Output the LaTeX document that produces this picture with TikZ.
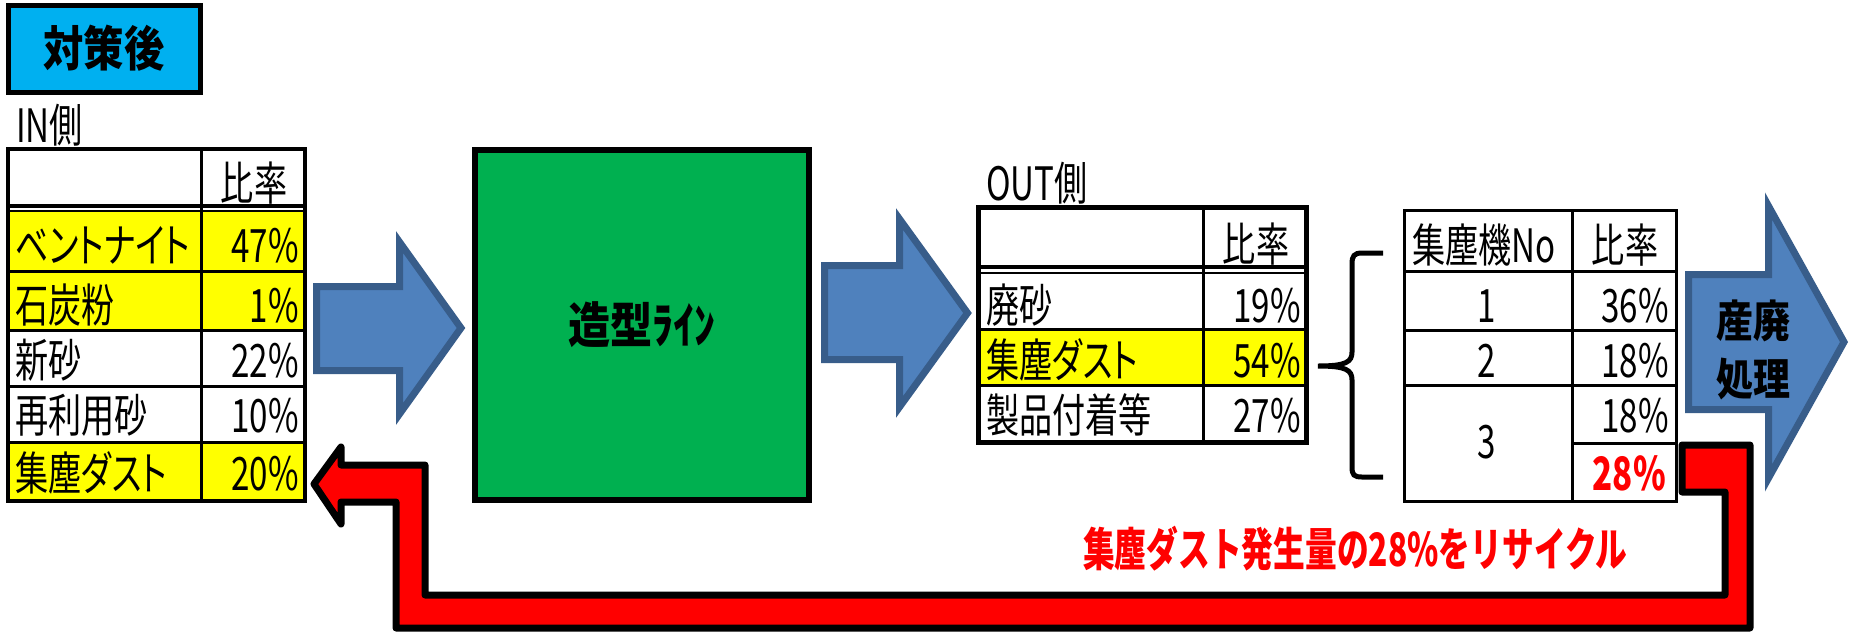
\documentclass[tikz,border=0pt]{standalone}
\usepackage{fontspec}
\newfontfamily\jp[FakeStretch=0.72, RawFeature=+palt]{Noto Sans CJK JP}
\newfontfamily\jpt[FakeStretch=0.84]{Noto Sans CJK JP}
\newfontfamily\jpg[FakeStretch=0.86]{Noto Sans CJK JP}
\newfontfamily\jpr[FakeStretch=0.69]{Noto Sans CJK JP}
\definecolor{cyanbox}{HTML}{00B0F0}
\definecolor{greenbox}{HTML}{00B050}
\definecolor{bluefill}{HTML}{4F81BD}
\definecolor{blueedge}{HTML}{385D8A}
\definecolor{yel}{HTML}{FFFF00}
\definecolor{redc}{HTML}{FF0000}
\begin{document}
\begin{tikzpicture}[x=1pt,y=-1pt,
  txt/.style={inner sep=0pt, font=\jp\fontsize{46pt}{46pt}\selectfont},
  lt/.style={txt, anchor=base west},
  rt/.style={txt, anchor=base east},
  ct/.style={txt, anchor=base},
  outerline/.style={line width=4.5pt},
  innerline/.style={line width=3pt},
  bluearrow/.style={fill=bluefill, draw=blueedge, line width=7pt, line join=miter},
  redarrow/.style={fill=redc, draw=black, line width=7pt, line join=round}]
\useasboundingbox (0,0) rectangle (1854,633);

% ---- title box
\node[draw=black, line width=5pt, fill=cyanbox, minimum width=192pt, minimum height=87pt,
      inner sep=0pt, font=\jpt\bfseries\fontsize{48pt}{48pt}\selectfont] (title) at (104,48.5) {対策後};

% ---- IN table
\node[lt] (inlabel) at (16,142) {IN側};
\fill[yel] (8,211) rectangle (305,330);
\fill[yel] (8,442) rectangle (305,501);
\draw[innerline] (201,149) -- (201,501);
\draw[line width=3.5pt] (8,206) -- (305,206);
\draw[line width=1.5pt] (8,211) -- (305,211);
\draw[innerline] (8,271) -- (305,271);
\draw[innerline] (8,330) -- (305,330);
\draw[innerline] (8,386) -- (305,386);
\draw[innerline] (8,442) -- (305,442);
\draw[outerline] (8,149) rectangle (305,501);
\node[ct] (inh) at (254,200) {比率};
\node[lt] (in1) at (15,262) {ベントナイト};
\node[rt] (in1p) at (299,262) {47\%};
\node[lt] (in2) at (15,322) {石炭粉};
\node[rt] (in2p) at (299,322) {1\%};
\node[lt] (in3) at (15,377) {新砂};
\node[rt] (in3p) at (299,377) {22\%};
\node[lt] (in4) at (15,432) {再利用砂};
\node[rt] (in4p) at (299,432) {10\%};
\node[lt] (in5) at (15,490) {集塵ダスト};
\node[rt] (in5p) at (299,490) {20\%};

% ---- blue arrow 1
\draw[bluearrow] (316.5,286.5) -- (399.5,286.5) -- (399.5,242) -- (461,328) -- (399.5,414) -- (399.5,370.5) -- (316.5,370.5) -- cycle;

% ---- green box
\node[draw=black, line width=6pt, fill=greenbox, minimum width=334pt, minimum height=350pt,
      inner sep=0pt, font=\jpg\bfseries\fontsize{49pt}{49pt}\selectfont] (line) at (642,325) {造型ﾗｲﾝ};

% ---- blue arrow 2
\draw[bluearrow] (824.5,265.5) -- (899.5,265.5) -- (899.5,219) -- (967.5,313) -- (899.5,407) -- (899.5,359.5) -- (824.5,359.5) -- cycle;

% ---- OUT table
\node[lt] (outlabel) at (986,200) {OUT側};
\fill[yel] (979,329) rectangle (1306,385);
\draw[innerline] (1203,207) -- (1203,443);
\draw[line width=3.5pt] (979,267) -- (1306,267);
\draw[line width=1.5pt] (979,273) -- (1306,273);
\draw[innerline] (979,329) -- (1306,329);
\draw[innerline] (979,385) -- (1306,385);
\draw[outerline] (978.5,207.5) rectangle (1306.5,442.5);
\node[ct] (outh) at (1256,261) {比率};
\node[lt] (out1) at (986,322) {廃砂};
\node[rt] (out1p) at (1301,322) {19\%};
\node[lt] (out2) at (986,377) {集塵ダスト};
\node[rt] (out2p) at (1301,377) {54\%};
\node[lt] (out3) at (986,432) {製品付着等};
\node[rt] (out3p) at (1301,432) {27\%};

% ---- brace
\draw[line width=5pt, line cap=butt] (1383,253) -- (1362,253) .. controls (1354,253) and (1352,256) .. (1352,264)
  -- (1352,352) .. controls (1352,362) and (1346,366) .. (1318,366)
  .. controls (1346,366) and (1352,370) .. (1352,380)
  -- (1352,467) .. controls (1352,475) and (1354,477) .. (1362,477) -- (1383,477);

% ---- red recycle arrow
\draw[redarrow] (1682,445) -- (1750,445) -- (1750,628) -- (396,628) -- (396,502) -- (341,502)
  -- (341,524) -- (314,484) -- (341,447) -- (341,465) -- (425,465) -- (425,595)
  -- (1725,595) -- (1725,492) -- (1682,492) -- cycle;

% ---- dust collector table
\draw[innerline] (1572,210.5) -- (1572,501.5);
\draw[innerline] (1404.5,271) -- (1676.5,271);
\draw[innerline] (1404.5,330) -- (1676.5,330);
\draw[innerline] (1404.5,385) -- (1676.5,385);
\draw[innerline] (1572,443) -- (1676.5,443);
\draw[line width=3.5pt] (1404.5,210.5) rectangle (1676.5,501.5);
\node[ct] (dh1) at (1484,262) {集塵機No};
\node[ct] (dh2) at (1625,262) {比率};
\node[ct] (d1) at (1487,322) {1};
\node[rt] (d1p) at (1669,322) {36\%};
\node[ct] (d2) at (1487,377) {2};
\node[rt] (d2p) at (1669,377) {18\%};
\node[ct] (d3) at (1487,458) {3};
\node[rt] (d3p) at (1669,432) {18\%};
\node[rt, text=redc, font=\jp\bfseries\fontsize{46pt}{46pt}\selectfont] (d3r) at (1666,490) {28\%};

% ---- blue arrow 3 with label
\draw[bluearrow] (1688.5,274.5) -- (1768.5,274.5) -- (1768.5,206) -- (1844,342) -- (1768.5,478) -- (1768.5,409.5) -- (1688.5,409.5) -- cycle;
\node[inner sep=0pt, anchor=base, font=\jpt\bfseries\fontsize{44pt}{44pt}\selectfont] (sanpai1) at (1753,337) {産廃};
\node[inner sep=0pt, anchor=base, font=\jpt\bfseries\fontsize{44pt}{44pt}\selectfont] (sanpai2) at (1753,395) {処理};

% ---- red caption
\node[inner sep=0pt, anchor=base west, text=redc, font=\jpr\bfseries\fontsize{46pt}{46pt}\selectfont] (caption) at (1083,566) {集塵ダスト発生量の28\%をリサイクル};
\end{tikzpicture}
\end{document}
